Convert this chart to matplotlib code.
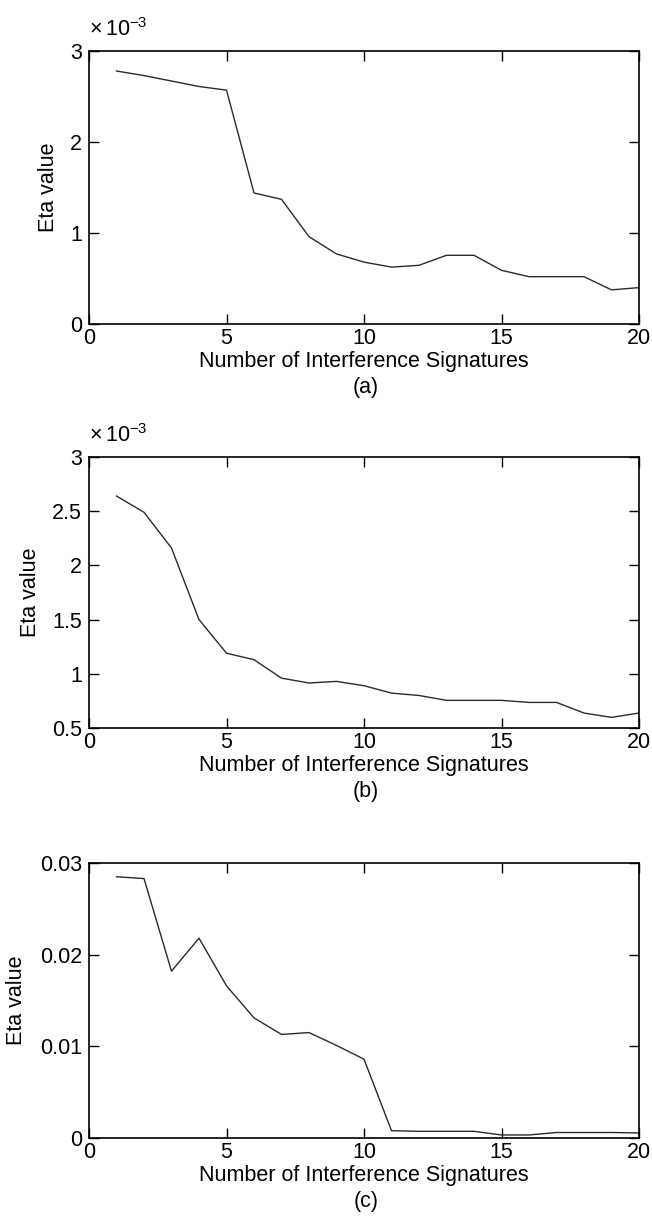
"""Eta value vs. number of interference signatures, three stacked panels."""

import matplotlib
matplotlib.use("Agg")
import matplotlib.pyplot as plt
from matplotlib.ticker import FuncFormatter
from matplotlib.transforms import ScaledTranslation

plt.rcParams["font.family"] = ["Liberation Sans", "DejaVu Sans"]
plt.rcParams["mathtext.fontset"] = "custom"
plt.rcParams["mathtext.rm"] = "Liberation Sans"
plt.rcParams["mathtext.default"] = "regular"

n_sig = list(range(1, 21))

# panel (a), values in units of 1e-3
eta_a = [2.78, 2.73, 2.67, 2.61, 2.57, 1.44, 1.37, 0.96, 0.77, 0.68,
         0.625, 0.645, 0.755, 0.755, 0.59, 0.52, 0.52, 0.52, 0.375, 0.40]
# panel (b), values in units of 1e-3
eta_b = [2.64, 2.49, 2.16, 1.50, 1.19, 1.13, 0.96, 0.915, 0.93, 0.89,
         0.822, 0.80, 0.755, 0.755, 0.755, 0.736, 0.736, 0.638, 0.598, 0.638]
# panel (c)
eta_c = [0.0285, 0.0283, 0.0182, 0.0218, 0.0166, 0.0131, 0.0113, 0.0115, 0.0101, 0.0086,
         0.0008, 0.00073, 0.00073, 0.00073, 0.00033, 0.00033, 0.0006, 0.0006, 0.0006, 0.00055]

panels = [
    ("(a)", eta_a, (0, 3), [0, 1, 2, 3], True, 41),
    ("(b)", eta_b, (0.5, 3), [0.5, 1, 1.5, 2, 2.5, 3], True, 59),
    ("(c)", eta_c, (0, 0.03), [0, 0.01, 0.02, 0.03], False, 72),
]

W, H = 652, 1216
DPI = 100
FS = 15.5
fig = plt.figure(figsize=(W / DPI, H / DPI), dpi=DPI)

# axes boxes in pixels (top, bottom)
boxes = [(51, 324), (457, 728), (863, 1138)]
x0, x1 = 89, 639

def px(ax, dx, dy):
    return ax.transAxes + ScaledTranslation(dx / DPI, dy / DPI, fig.dpi_scale_trans)

for (tag, vals, ylim, yt, scaled, ylab_off), (top, bot) in zip(panels, boxes):
    ax = fig.add_axes([x0 / W, 1 - bot / H, (x1 - x0) / W, (bot - top) / H])
    ax.plot(n_sig, vals, color="#2a2a2a", lw=1.0)
    ax.set_xlim(0, 20)
    ax.set_ylim(*ylim)
    ax.set_xticks([0, 5, 10, 15, 20])
    ax.set_yticks(yt)
    ax.yaxis.set_major_formatter(FuncFormatter(lambda v, p: f"{v:g}"))
    ax.tick_params(direction="in", length=7, width=1, top=True, right=True,
                   labelsize=FS, pad=5)
    ax.tick_params(axis="x", pad=3)
    for sp in ax.spines.values():
        sp.set_linewidth(1.2)

    ax.set_xlabel("Number of Interference Signatures", fontsize=FS)
    ax.xaxis.set_label_coords(0.5, 0, transform=px(ax, 0, -27))
    ax.xaxis.label.set_va("top")

    ax.set_ylabel("Eta value", fontsize=FS)
    ax.yaxis.set_label_coords(0, 0.5, transform=px(ax, -ylab_off, 0))
    ax.yaxis.label.set_va("center")

    ax.text(0.5, 0, tag, transform=px(ax, 2, -63), ha="center", va="center",
            fontsize=FS)
    if scaled:
        ax.text(0, 1, r"$\times\,10^{-3}$", transform=px(ax, 0, 15),
                ha="left", va="baseline", fontsize=FS)

fig.savefig("out.png", dpi=DPI)
